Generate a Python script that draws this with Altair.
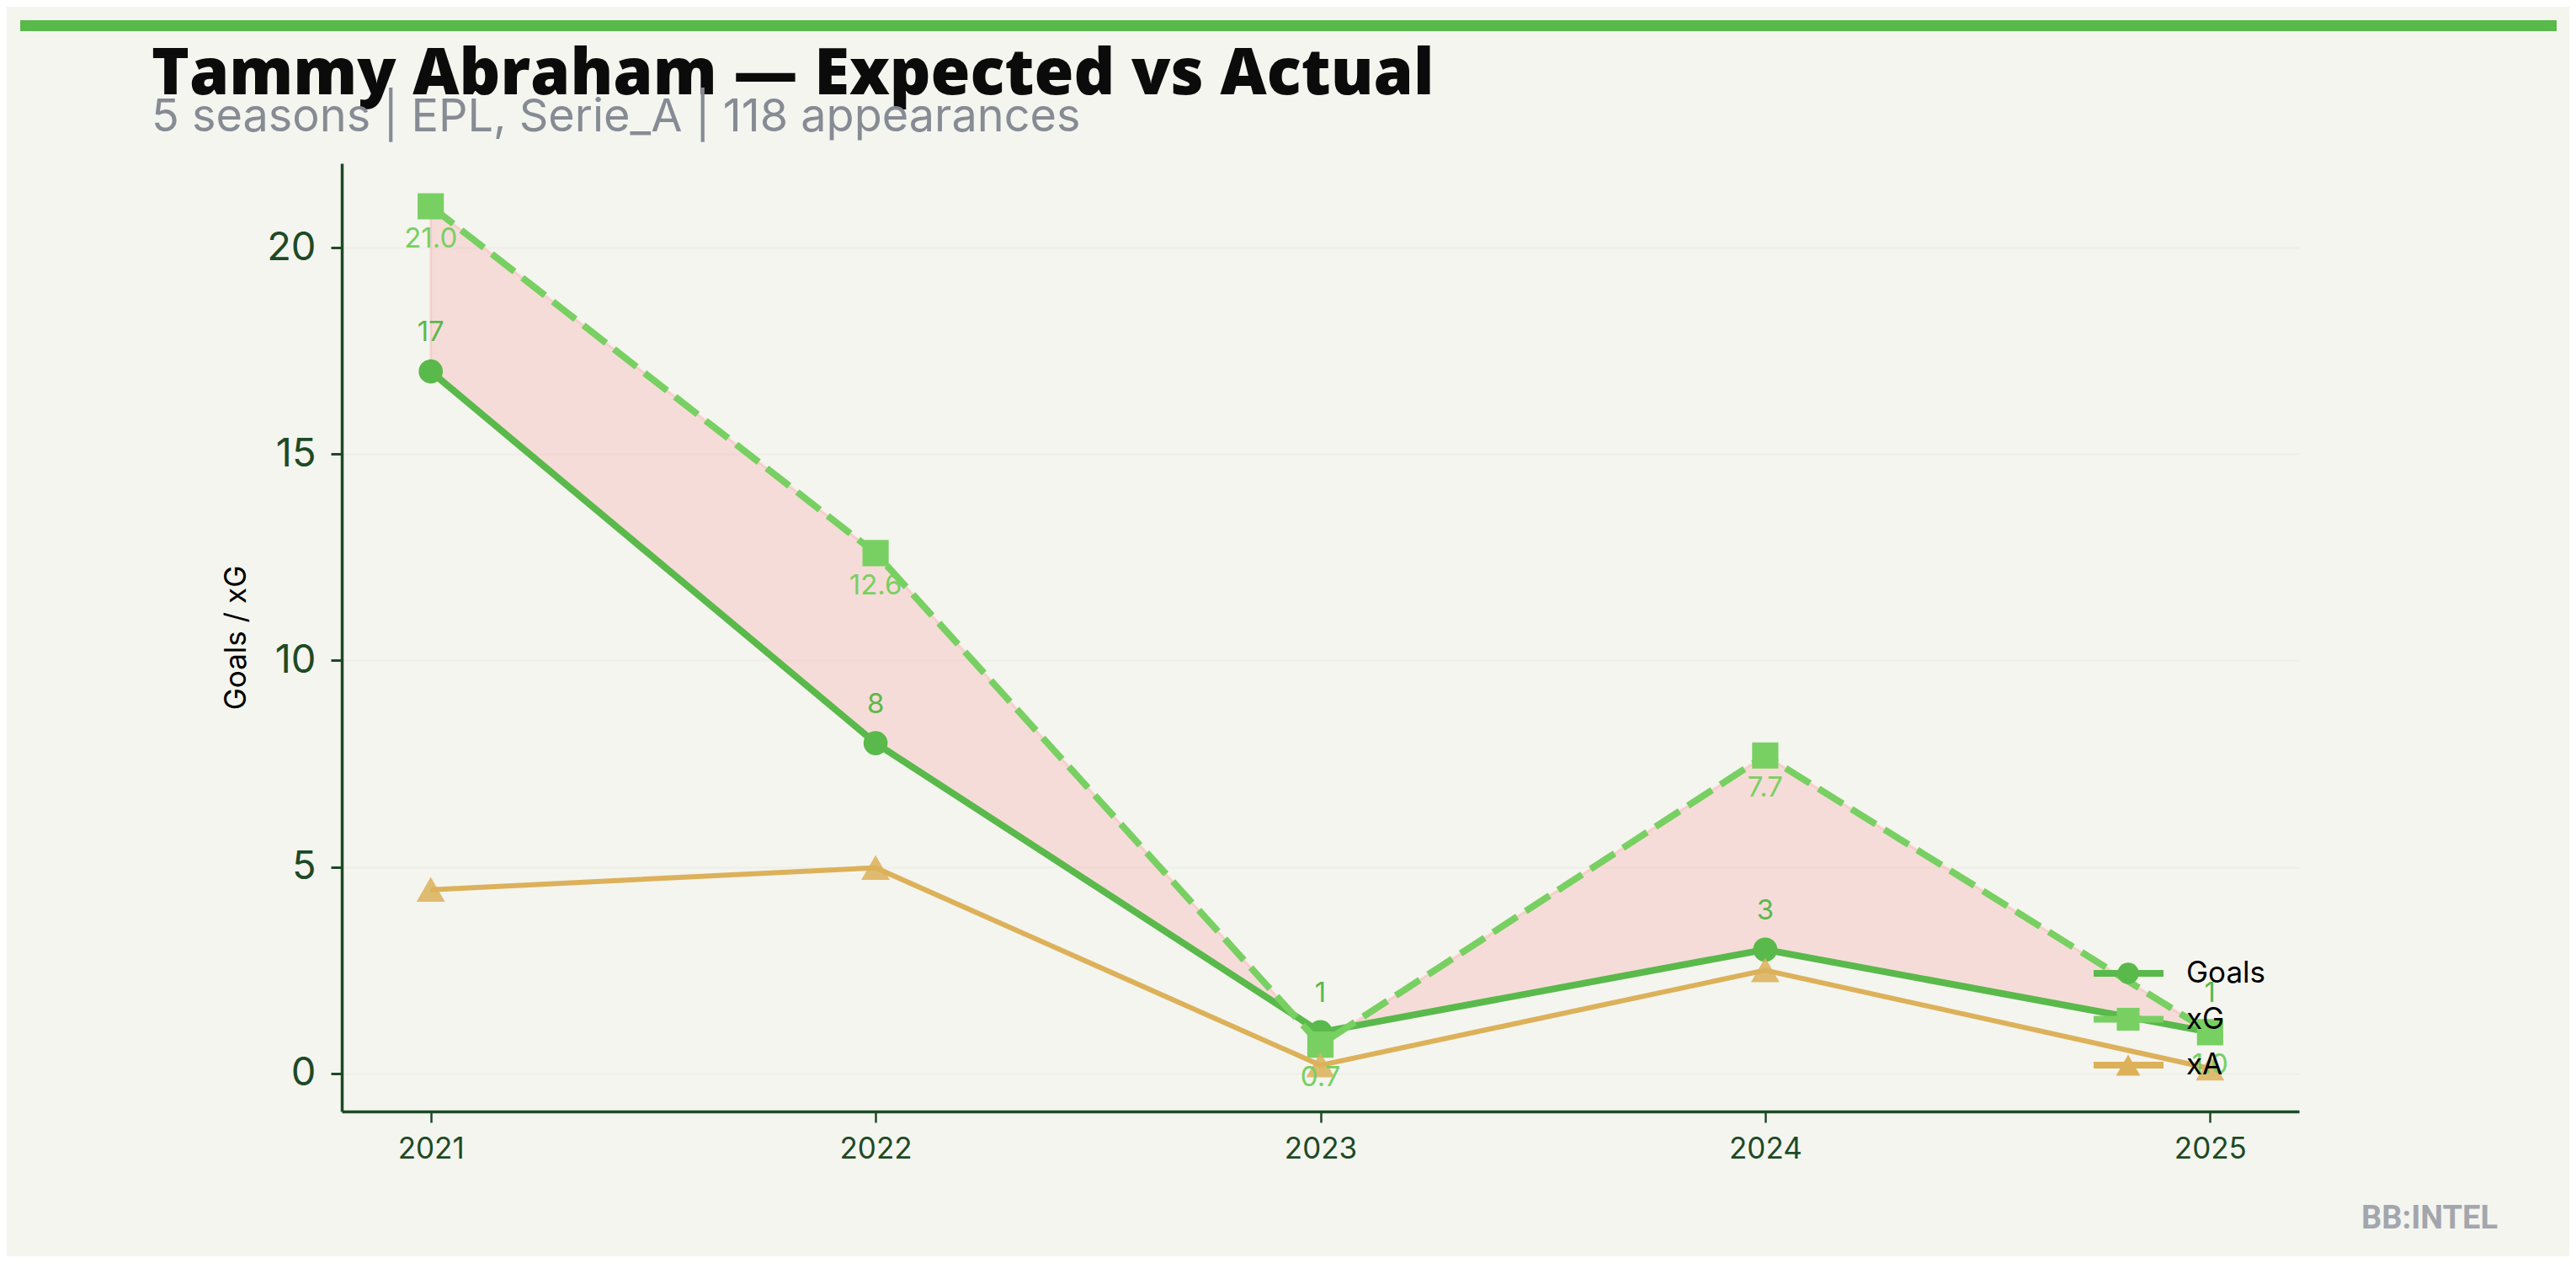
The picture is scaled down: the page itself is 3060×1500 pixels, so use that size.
import altair as alt
import pandas as pd

# ---------------- data ----------------
seasons = [2021, 2022, 2023, 2024, 2025]
goals = [17, 8, 1, 3, 1]
xg = [21.0, 12.6, 0.7, 7.7, 1.0]
xa = [4.45, 4.98, 0.2, 2.5, 0.12]

series_names = ["Goals", "xG", "xA"]
series_colors = ["#5ab94b", "#78d062", "#dcb15a"]
series_shapes = ["circle", "square", "triangle-up"]

title_text = "Tammy Abraham \u2014 Expected vs Actual"
subtitle_text = "5 seasons | EPL, Serie_A | 118 appearances"
y_title = "Goals / xG"
watermark_text = ["BB:INTEL"]

wide = pd.DataFrame({"season": seasons, "Goals": goals, "xG": xg, "xA": xa})
long = wide.melt("season", var_name="series", value_name="value")
leg_df = pd.DataFrame({"series": series_names})
wm_df = pd.DataFrame({"label": watermark_text})

# ---------------- layout ----------------
W, H = 2325, 1126
X_DOMAIN = [2020.8, 2025.2]
Y_DOMAIN = [-0.92, 22.04]
DARK = "#1d4a25"
BG = "#f4f5ef"

x_scale = alt.Scale(domain=X_DOMAIN, nice=False, zero=False)
y_scale = alt.Scale(domain=Y_DOMAIN, nice=False, zero=False)

x_enc = alt.X(
    "season:Q",
    scale=x_scale,
    axis=alt.Axis(
        values=seasons, format="d", title=None, grid=False,
        labelFont="Inter", labelFontSize=35, labelColor=DARK, labelPadding=14,
        tickSize=13, tickWidth=2.5, tickColor=DARK,
        domainColor=DARK, domainWidth=3.5,
    ),
)

y_axis = alt.Axis(
    values=[0, 5, 10, 15, 20], format="d", title=y_title,
    titleFont="Inter", titleFontSize=35, titleFontWeight="normal", titleColor="#000000",
    titlePadding=18,
    labelFont="Inter", labelFontSize=47, labelColor=DARK, labelPadding=18,
    tickSize=13, tickWidth=3, tickColor=DARK,
    domainColor=DARK, domainWidth=3.5,
    grid=True, gridColor="#eeefe8", gridWidth=2.5,
)

# ---------------- shaded gap between Goals and xG ----------------
area = alt.Chart(wide).mark_area(
    fill="#ff706f", fillOpacity=0.18,
    stroke="#ff706f", strokeOpacity=0.18, strokeWidth=3,
).encode(
    x=x_enc,
    y=alt.Y("Goals:Q", scale=y_scale, axis=y_axis),
    y2=alt.Y2("xG:Q"),
)


def series_layers(name, color, shape, width, size, dash=None, opacity=1.0):
    base = alt.Chart(long).transform_filter(alt.datum.series == name)
    y = alt.Y("value:Q", scale=y_scale, axis=None)
    line_kw = dict(color=color, strokeWidth=width)
    if dash:
        line_kw["strokeDash"] = dash
    line = base.mark_line(**line_kw).encode(x="season:Q", y=y)
    pts = base.mark_point(
        filled=True, shape=shape, size=size, color=color, opacity=opacity,
        stroke=color, strokeWidth=1.5,
    ).encode(x="season:Q", y=y)
    return [line, pts]


layers = [area]
layers += series_layers("Goals", series_colors[0], "circle", 8, 740)
layers += series_layers("xG", series_colors[1], "square", 8, 880, dash=[34, 12])
layers += series_layers("xA", series_colors[2], "triangle-up", 6, 980, opacity=0.85)

# value labels
goal_lbl = alt.Chart(wide).mark_text(
    dy=-46, font="Inter", fontSize=33, color=series_colors[0], baseline="middle"
).encode(
    x="season:Q", y=alt.Y("Goals:Q", scale=y_scale, axis=None),
    text=alt.Text("Goals:Q", format="d"),
)
xg_lbl = alt.Chart(wide).mark_text(
    dy=39, font="Inter", fontSize=33, color=series_colors[1], baseline="middle"
).encode(
    x="season:Q", y=alt.Y("xG:Q", scale=y_scale, axis=None),
    text=alt.Text("xG:Q", format=".1f"),
)
layers += [goal_lbl, xg_lbl]

# ---------------- in-plot legend ----------------
leg_y = alt.Y(
    "series:N",
    scale=alt.Scale(type="point", domain=series_names, range=[962, 1071], padding=0),
    axis=None,
)
leg_color = alt.Color("series:N", scale=alt.Scale(domain=series_names, range=series_colors), legend=None)
leg_rule = alt.Chart(leg_df).mark_rule().encode(
    x=alt.value(2081), x2=alt.value(2164), y=leg_y, color=leg_color,
    strokeWidth=alt.StrokeWidth("series:N", scale=alt.Scale(domain=series_names, range=[8, 8, 6]), legend=None),
)
leg_pts = alt.Chart(leg_df).mark_point(filled=True, opacity=1).encode(
    x=alt.value(2122), y=leg_y, color=leg_color,
    shape=alt.Shape("series:N", scale=alt.Scale(domain=series_names, range=series_shapes), legend=None),
    size=alt.Size("series:N", scale=alt.Scale(domain=series_names, range=[650, 820, 880]), legend=None),
)
leg_txt = alt.Chart(leg_df).mark_text(
    align="left", baseline="middle", font="Inter", fontSize=35, color="#000000"
).encode(x=alt.value(2191), y=leg_y, text="series:N")
layers += [leg_rule, leg_pts, leg_txt]

# ---------------- decorations ----------------
top_bar = alt.Chart(wm_df).mark_rule(color="#5ab94b", strokeWidth=13).encode(
    x=alt.value(-382), x2=alt.value(2631), y=alt.value(-163.5)
)
wm = alt.Chart(wm_df).mark_text(
    align="right", baseline="middle", font="Roboto", fontWeight="bold",
    fontSize=38, color="#a3a6ad",
).encode(x=alt.value(2561), y=alt.value(1254), text="label:N")
layers += [top_bar, wm]

chart = alt.layer(*layers).resolve_scale(y="independent").properties(
    width=W,
    height=H,
    autosize="none",
    padding={"left": 398, "top": 186, "right": 321, "bottom": 172},
    background=BG,
    title=alt.TitleParams(
        text=title_text,
        subtitle=subtitle_text,
        anchor="start",
        frame="group",
        dx=-226,
        dy=166,
        offset=22,
        font="Open Sans",
        fontSize=76,
        fontWeight=800,
        color="#0b0b0b",
        subtitleFont="Inter",
        subtitleFontSize=54,
        subtitleColor="#868b94",
        subtitlePadding=-15,
        limit=2800,
    ),
).configure_view(stroke=None).configure_title(
    lineHeight=76,
)

chart.save("out.html", embed_options={"renderer": "svg", "actions": False})
